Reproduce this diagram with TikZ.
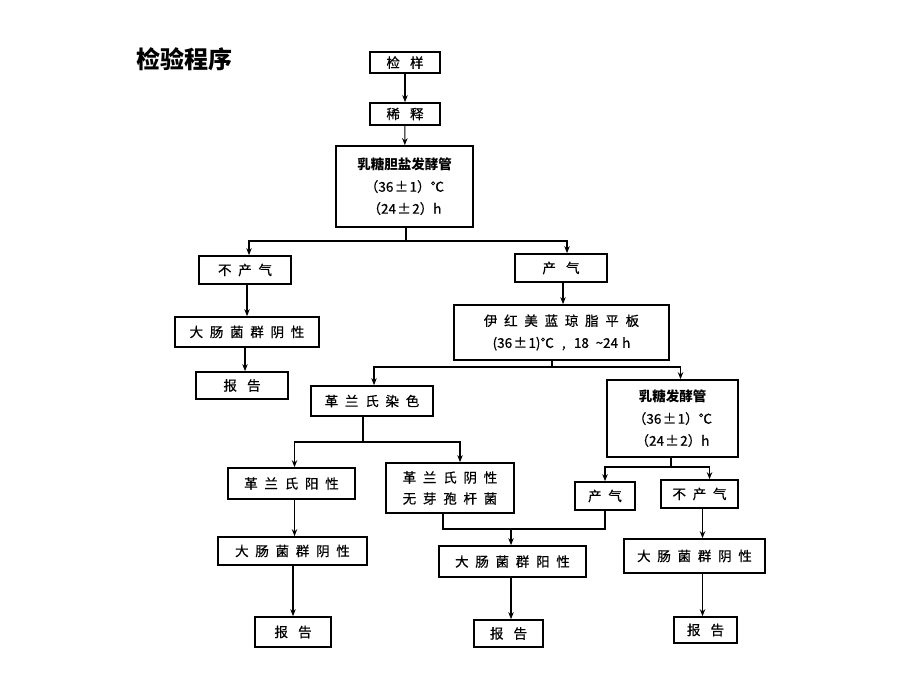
\documentclass[tikz,border=0pt]{standalone}
\usepackage{fontspec}
\setmainfont{Noto Sans CJK SC}
\newfontfamily\cjk[FakeBold=0.6]{Noto Sans CJK SC}
\newfontfamily\cjkt{Noto Sans CJK SC}
\usetikzlibrary{arrows.meta}
\newcommand{\gp}{\hspace{0.5em}}
\newcommand{\gw}{\hspace{0.75em}}
\tikzset{
  box/.style={draw, line width=1.7pt, inner sep=0pt, align=center,
    font=\cjk\fontsize{13.5}{22}\selectfont},
  conn/.style={line width=1.1pt},
  arr/.style={conn, -{Stealth[length=7pt,width=5.5pt]}},
}
\begin{document}
\begin{tikzpicture}[x=1pt,y=-1pt]
\useasboundingbox[fill=white] (0,0) rectangle (920,690);
\node[font=\cjkt\bfseries\fontsize{24}{24}\selectfont] (title) at (184,59) {检验程序};

\node[box, minimum width=70, minimum height=21] (s1) at (405,62.5) {检\gw 样};
\node[box, minimum width=70, minimum height=22] (s2) at (405,114) {稀\gw 释};
\node[box, minimum width=137, minimum height=81] (s3) at (404.5,186.5)
  {{\cjkt\bfseries 乳糖胆盐发酵管}\\（36\hspace{0.1em}±\hspace{0.1em}1）℃\\（24\hspace{0.1em}±\hspace{0.1em}2）h};
\node[box, minimum width=92, minimum height=28] (n1) at (245,270) {不\gp 产\gp 气};
\node[box, minimum width=92, minimum height=28] (p1) at (561,268) {产\gw 气};
\node[box, minimum width=144, minimum height=30] (neg1) at (247,332) {大\gp 肠\gp 菌\gp 群\gp 阴\gp 性};
\node[box, minimum width=92, minimum height=27] (r1) at (242,385.5) {报\gw 告};
\node[box, minimum width=215, minimum height=55] (emb) at (561.5,332.5)
  {伊\gp 红\gp 美\gp 蓝\gp 琼\gp 脂\gp 平\gp 板\\(36\hspace{0.1em}±\hspace{0.1em}1)℃\hspace{0.6em},\hspace{0.6em}18\hspace{0.5em}\textasciitilde 24\hspace{0.3em}h};
\node[box, minimum width=122, minimum height=30] (gram) at (372,401) {革\gp 兰\gp 氏\gp 染\gp 色};
\node[box, minimum width=131, minimum height=77] (lac) at (672.5,418.5)
  {{\cjkt\bfseries 乳糖发酵管}\\（36\hspace{0.1em}±\hspace{0.1em}1）℃\\（24\hspace{0.1em}±\hspace{0.1em}2）h};
\node[box, minimum width=127, minimum height=31] (gpos) at (291.5,483.5) {革\gp 兰\gp 氏\gp 阳\gp 性};
\node[box, minimum width=128, minimum height=50, font=\cjk\fontsize{13.5}{21}\selectfont] (gneg) at (450,488)
  {革\gp 兰\gp 氏\gp 阴\gp 性\\无\gp 芽\gp 孢\gp 杆\gp 菌};
\node[box, minimum width=149, minimum height=28] (neg2) at (292.5,551) {大\gp 肠\gp 菌\gp 群\gp 阴\gp 性};
\node[box, minimum width=76, minimum height=30] (r2) at (293,632) {报\gw 告};
\node[box, minimum width=147, minimum height=31] (pos) at (512.5,561.5) {大\gp 肠\gp 菌\gp 群\gp 阳\gp 性};
\node[box, minimum width=69, minimum height=27] (r3) at (508.5,633.5) {报\gw 告};
\node[box, minimum width=60, minimum height=28] (p2) at (605,496) {产\gp 气};
\node[box, minimum width=77, minimum height=28] (n2) at (699.5,494) {不\gp 产\gp 气};
\node[box, minimum width=141, minimum height=34] (neg3) at (694.5,556) {大\gp 肠\gp 菌\gp 群\gp 阴\gp 性};
\node[box, minimum width=63, minimum height=26] (r4) at (705.5,630) {报\gw 告};

% junctions
\coordinate (b1) at (406,241);
\coordinate (b2) at (552,367);
\coordinate (b3) at (363,442);
\coordinate (c1) at (443,529);
\coordinate (b4) at (511,529);
\coordinate (b5) at (671,467);

\draw[arr] (s1) -- (s2);
\draw[arr] (s2) -- (s3);
\draw[conn] (s3.south -| b1) -- (b1);
\draw[arr] (b1) -| ([xshift=4pt]n1.north);
\draw[arr] (b1) -| ([xshift=6pt]p1.north);
\draw[arr] (neg1.north |- n1.south) -- (neg1.north);
\draw[arr] (neg1.south -| n1) -- (n1 |- r1.north);
\draw[arr] ([xshift=2pt]p1.south) -- ([xshift=2pt]p1.south |- emb.north);
\draw[conn] (emb.south -| b2) -- (b2);
\draw[arr] (b2) -| ([xshift=2pt]gram.north);
\draw[arr] (b2) -| ([xshift=8pt]lac.north);
\draw[conn] (gram.south -| b3) -- (b3);
\draw[arr] (b3) -| ([xshift=3pt]gpos.north);
\draw[arr] (b3) -| ([xshift=10pt]gneg.north);
\draw[arr] ([xshift=3pt]gpos.south) -- ([xshift=3pt]gpos.south |- neg2.north);
\draw[arr] (r2.north |- neg2.south) -- (r2.north);
\draw[conn] (gneg.south -| c1) -- (c1) -- (c1 -| p2.south) -- (p2.south);
\draw[arr] (b4) -- (b4 |- pos.north);
\draw[arr] (pos.south -| b4) -- (b4 |- r3.north);
\draw[conn] (lac.south -| b5) -- (b5);
\draw[arr] (b5) -| (p2.north);
\draw[arr] (b5) -| ([xshift=10pt]n2.north);
\draw[arr] ([xshift=3pt]n2.south) -- ([xshift=3pt]n2.south |- neg3.north);
\draw[arr] ([xshift=8pt]neg3.south) -- ([xshift=8pt]neg3.south |- r4.north);
\end{tikzpicture}
\end{document}
